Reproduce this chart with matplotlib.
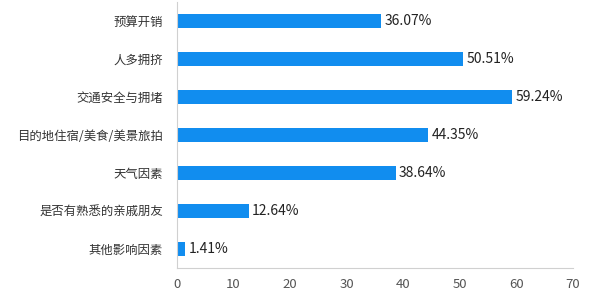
import matplotlib.pyplot as plt
import numpy as np

plt.rcParams['font.family'] = ['Noto Sans CJK SC', 'DejaVu Sans']

# data
categories = ['预算开销', '人多拥挤', '交通安全与拥堵', '目的地住宿/美食/美景旅拍',
              '天气因素', '是否有熟悉的亲戚朋友', '其他影响因素']
values = [36.07, 50.51, 59.24, 44.35, 38.64, 12.64, 1.41]
xticks = [0, 10, 20, 30, 40, 50, 60, 70]

fig = plt.figure(figsize=(6, 2.93), dpi=100)
ax = fig.add_axes([0.295, 0.085, 0.66, 0.908])

y = np.arange(len(categories))
ax.barh(y, values, height=0.37, color='#118DEF')
for yi, v in zip(y, values):
    ax.text(v + 0.6, yi, '%.2f%%' % v, va='center', ha='left',
            fontsize=10, color='#222222')

ax.set_ylim(len(categories) - 0.5, -0.5)
ax.set_xlim(0, 70)
ax.set_xticks(xticks)
ax.set_yticks(y)
ax.set_yticklabels(categories, fontsize=8.9, color='#333333')
ax.tick_params(axis='both', length=0)
ax.tick_params(axis='x', labelsize=9.5, colors='#555555', pad=7)
ax.tick_params(axis='y', pad=10)

for s in ['top', 'right']:
    ax.spines[s].set_visible(False)
for s in ['left', 'bottom']:
    ax.spines[s].set_color('#D0D0D0')
    ax.spines[s].set_linewidth(0.8)

fig.savefig('out.png', dpi=100)
